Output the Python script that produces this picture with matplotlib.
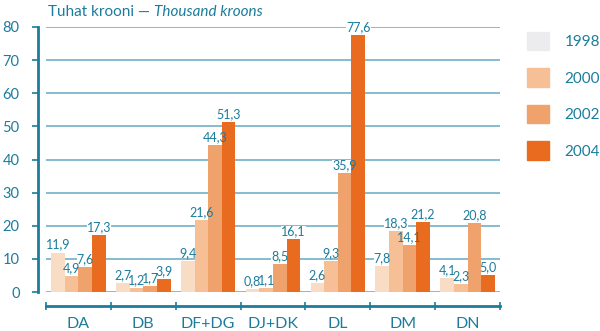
import matplotlib.pyplot as plt
import numpy as np

plt.rcParams['font.family'] = ['Lato', 'DejaVu Sans']

# tegevusalad ja aastad
groups = ['DA', 'DB', 'DF+DG', 'DJ+DK', 'DL', 'DM', 'DN']
years = ['1998', '2000', '2002', '2004']
v1998 = [11.9, 2.7, 9.4, 0.8, 2.6, 7.8, 4.1]
v2000 = [4.9, 1.2, 21.6, 1.1, 9.3, 18.3, 2.3]
v2002 = [7.6, 1.7, 44.3, 8.5, 35.9, 14.1, 20.8]
v2004 = [17.3, 3.9, 51.3, 16.1, 77.6, 21.2, 5.0]
series = [v1998, v2000, v2002, v2004]

teal = '#1b7c9c'
grid_c = '#6fb0c6'
bar_cols = ['#f9dcc4', '#f6bf95', '#f0a26c', '#e86b20']
leg_cols = ['#ececee', '#f6bf95', '#f0a26c', '#e86b20']

fig = plt.figure(figsize=(6, 3.31), dpi=100)
ax = fig.add_axes([46/600, 39/331, 454/600, 265/331])

x = np.arange(len(groups))
w = 0.21
labels = []
for j, vals in enumerate(series):
    pos = x + (j - 1.5) * w
    ax.bar(pos, vals, w, color=bar_cols[j], zorder=3)
    for p, v in zip(pos, vals):
        t = ax.text(p, v + 0.6, f'{v:.1f}'.replace('.', ','), ha='center', va='bottom',
                    fontsize=9, color=teal, zorder=4)
        labels.append(t)

ax.set_xlim(-0.5, len(groups) - 0.5)
ax.set_ylim(0, 80)
ax.set_yticks(range(0, 81, 10))
ax.yaxis.grid(True, color=grid_c, lw=1.2, zorder=0)
ax.set_axisbelow(True)

for s in ['top', 'right']:
    ax.spines[s].set_visible(False)
ax.spines['left'].set_position(('outward', 6))
ax.spines['left'].set_color(teal)
ax.spines['left'].set_linewidth(2)
ax.spines['bottom'].set_position(('outward', 10))
ax.spines['bottom'].set_color(teal)
ax.spines['bottom'].set_linewidth(2)

ax.tick_params(axis='y', colors=teal, labelsize=10.5, length=4, width=1.2, pad=9)
ax.set_xticks(np.arange(-0.5, len(groups)), labels=[])
ax.tick_params(axis='x', which='major', colors=teal, length=6, width=1.2, direction='inout')
ax.set_xticks(x, groups, minor=True)
ax.tick_params(axis='x', which='minor', length=0, labelsize=11.5, labelcolor=teal, pad=8)

# pealkiri: tavaline ja kaldkirjas osa
ty = 1 - 12/331
t1 = fig.text(48/600, ty, 'Tuhat krooni \u2014 ', fontsize=11, color=teal, va='center')
fig.canvas.draw()
bb = t1.get_window_extent()
fig.text(bb.x1 / fig.bbox.width, ty, 'Thousand kroons', fontsize=11, color=teal,
         va='center', style='italic')

# valged taustad siltide alla, et ruudujooned ei läbiks numbreid
inv = ax.transData.inverted()
for t in labels:
    e = t.get_window_extent().expanded(1.0, 0.8)
    (x0, y0), (x1, y1) = inv.transform([[e.x0, e.y0], [e.x1, e.y1]])
    ax.add_patch(plt.Rectangle((x0, y0), x1 - x0, y1 - y0, fc='white', ec='none',
                               zorder=2))

handles = [plt.Rectangle((0, 0), 1, 1, color=c) for c in leg_cols]
fig.legend(handles, years, loc='upper left', bbox_to_anchor=(527/600, 1 - 32/331),
           frameon=False, fontsize=11, labelcolor=teal, handlelength=1.45,
           handleheight=1.45, labelspacing=1.2, handletextpad=1.0, borderpad=0,
           borderaxespad=0)

fig.savefig('out.png', dpi=100)
